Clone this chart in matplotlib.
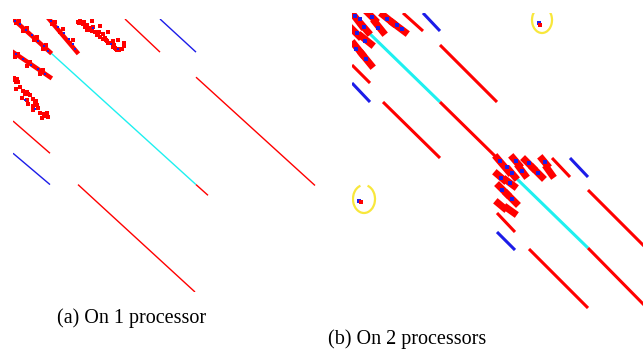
import matplotlib.pyplot as plt
from matplotlib.patches import Arc

RED = '#ff0000'
BLUE = '#1c1ce8'
CYAN = '#1ef0f0'
YELLOW = '#f8e73c'

# ---- (a) on 1 processor, matrix index units (col, row)
a_red_lines = [(112, 0, 147, 37), (183, 65, 302, 186), (0, 114, 37, 150),
               (65, 185, 182, 305), (183, 185, 195, 197)]
a_blue_lines = [(147, 0, 183, 37), (0, 150, 37, 185)]
a_cyan_lines = [(37, 37, 183, 185)]
a_bands = [(0, 0, 37, 37), (36, 0, 64, 37), (0, 37, 37, 65)]
a_dots = [(65, 3), (69, 4), (72, 9), (74, 7), (77, 12), (80, 9), (82, 14),
          (86, 15), (87, 20), (90, 22), (93, 23), (95, 27), (98, 27),
          (100, 31), (103, 33), (106, 35), (109, 34), (111, 30), (111, 27),
          (105, 23), (95, 14), (87, 8), (79, 2), (90, 17), (84, 18),
          (100, 25), (74, 12), (67, 2), (70, 6), (76, 10), (92, 21),
          (102, 32), (104, 35), (66, 5), (71, 3), (79, 13), (85, 16),
          (94, 25), (101, 29), (107, 33),
          (2, 68), (5, 70), (3, 78), (7, 76), (10, 80), (14, 82), (17, 85),
          (9, 88), (14, 91), (20, 89), (15, 95), (20, 97), (23, 92),
          (25, 99), (20, 102), (27, 105), (29, 111), (32, 107), (35, 110),
          (34, 105), (3, 70), (15, 84), (24, 96), (33, 108), (1, 66),
          (12, 84), (22, 94), (31, 106), (4, 67),
          (3, 5), (6, 2), (10, 13), (14, 10), (21, 24), (24, 20), (30, 34),
          (33, 29), (39, 6), (42, 3), (47, 15), (50, 11), (57, 27), (60, 24),
          (2, 42), (5, 39), (14, 52), (17, 48), (27, 61), (30, 57)]
a_blue_dots = [(2, 2), (7, 6), (13, 12), (19, 18), (25, 25), (31, 30),
               (35, 36), (38, 2), (45, 9), (51, 16), (56, 22), (60, 28),
               (62, 33), (3, 39), (10, 45), (18, 51), (25, 56), (32, 62),
               (80, 10), (98, 28), (105, 34), (12, 90), (22, 100)]

# ---- (b) on 2 processors
b_red_lines = [(51, 0, 71, 18), (88, 32, 145, 89), (0, 52, 18, 70),
               (31, 89, 88, 145), (88, 89, 145, 145),
               (200, 145, 218, 164), (236, 177, 293, 234), (145, 200, 163, 219),
               (177, 236, 236, 295), (236, 235, 300, 300)]
b_blue_lines = [(71, 0, 88, 18), (0, 70, 18, 89), (218, 145, 236, 164),
                (145, 219, 163, 237)]
b_cyan_lines = [(16, 19, 88, 89), (163, 164, 236, 235)]
b_bands = [(0, 0, 10, 13), (10, 12, 16, 19), (16, 0, 23, 7), (23, 9, 31, 19),
           (31, 2, 41, 10), (41, 10, 53, 19), (0, 16, 7, 23), (9, 23, 19, 31),
           (2, 31, 10, 41), (10, 41, 19, 52),
           (145, 145, 157, 159), (157, 157, 163, 164), (161, 145, 167, 152),
           (167, 154, 173, 162), (173, 147, 181, 155), (181, 155, 190, 164),
           (190, 146, 195, 152), (195, 155, 200, 162), (145, 161, 152, 167),
           (154, 167, 162, 173), (147, 173, 155, 181), (155, 181, 164, 190),
           (146, 190, 152, 195), (155, 195, 162, 200)]
b_blue_dots = [(3, 3), (8, 6), (12, 14), (20, 4), (26, 15), (35, 6), (45, 12),
               (50, 16), (5, 20), (13, 28), (4, 36), (14, 46),
               (148, 148), (155, 154), (160, 160), (164, 148), (170, 158),
               (177, 150), (186, 160), (193, 149), (149, 165), (158, 170),
               (150, 177), (160, 186), (7, 188), (187, 10)]
b_couple = [(9, 189), (188, 12)]
b_circles = [(190, 7, 20, 26), (12, 186, 22, 28)]


def draw(ax, reds, blues, cyans, bands, lw, band_lw):
    for c0, r0, c1, r1 in cyans:
        ax.plot([c0, c1], [r0, r1], color=CYAN, lw=lw, solid_capstyle='butt')
    for c0, r0, c1, r1 in reds:
        ax.plot([c0, c1], [r0, r1], color=RED, lw=lw, solid_capstyle='butt')
    for c0, r0, c1, r1 in blues:
        ax.plot([c0, c1], [r0, r1], color=BLUE, lw=lw, solid_capstyle='butt')
    for c0, r0, c1, r1 in bands:
        ax.plot([c0, c1], [r0, r1], color=RED, lw=band_lw,
                solid_capstyle='projecting')


fig = plt.figure(figsize=(6.43, 3.49), dpi=100)

axa = fig.add_axes([13 / 643, 1 - 292 / 349, 305 / 643, 273 / 349])
draw(axa, a_red_lines, a_blue_lines, a_cyan_lines, a_bands, 1.0, 3.2)
axa.plot([p[0] for p in a_dots], [p[1] for p in a_dots], 's', color=RED,
         ms=2.2, mew=0)
axa.plot([p[0] for p in a_blue_dots], [p[1] for p in a_blue_dots], 's',
         color=BLUE, ms=1.6, mew=0)
axa.set_xlim(0, 305)
axa.set_ylim(305, 0)
axa.axis('off')

axb = fig.add_axes([352 / 643, 1 - 313 / 349, 291 / 643, 300 / 349])
draw(axb, b_red_lines, b_blue_lines, b_cyan_lines, b_bands, 2.2, 5)
axb.plot([p[0] for p in b_blue_dots], [p[1] for p in b_blue_dots], 's',
         color=BLUE, ms=2.2, mew=0)
axb.plot([p[0] for p in b_couple], [p[1] for p in b_couple], 's', color=RED,
         ms=2.4, mew=0)
for cx, cy, w, h in b_circles:
    axb.add_patch(Arc((cx, cy), w, h, theta1=-75, theta2=255, color=YELLOW,
                      lw=1.6))
axb.set_xlim(0, 291)
axb.set_ylim(300, 0)
axb.axis('off')

fig.text(132 / 643, 1 - 318 / 349, '(a) On 1 processor', ha='center',
         va='center', family='Liberation Serif', fontsize=14.5)
fig.text(407 / 643, 1 - 339 / 349, '(b) On 2 processors', ha='center',
         va='center', family='Liberation Serif', fontsize=14.5)

fig.savefig('out.png', dpi=100)
